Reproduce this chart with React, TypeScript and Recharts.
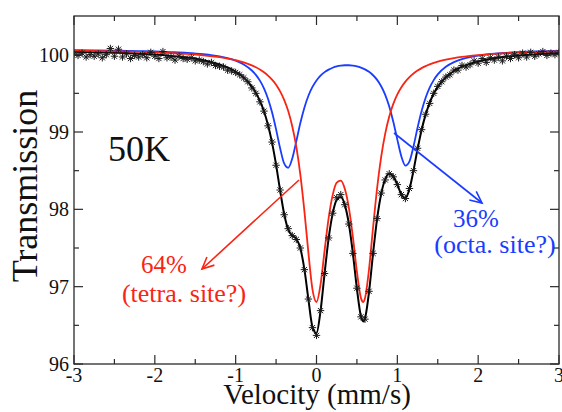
import { ComposedChart, Line, Scatter, XAxis, YAxis } from 'recharts';

// velocity grid (mm/s) for the fitted curves
const VELOCITY = [
  -3, -2.5, -2.2, -2, -1.8, -1.6, -1.4, -1.2, -1.1, -1, -0.9,
  -0.8, -0.75, -0.7, -0.65, -0.6, -0.55, -0.5, -0.45, -0.4, -0.35, -0.3, -0.25, -0.2, -0.15, -0.1, -0.05,
  0, 0.05, 0.1, 0.15, 0.2, 0.25, 0.3, 0.35, 0.4, 0.45, 0.5, 0.55, 0.58, 0.6, 0.65, 0.7, 0.75, 0.8, 0.85, 0.9, 0.95,
  1, 1.05, 1.1, 1.15, 1.2, 1.25, 1.3, 1.35, 1.4, 1.45, 1.5,
  1.6, 1.7, 1.8, 1.9, 2, 2.2, 2.5, 3,
];

// tetrahedral doublet (red)
const TETRA = [
  100.051, 100.043, 100.036, 100.029, 100.02, 100.009, 99.992, 99.967, 99.95, 99.928, 99.9,
  99.861, 99.837, 99.808, 99.773, 99.729, 99.677, 99.611, 99.525, 99.416, 99.271, 99.075, 98.81, 98.45, 97.981, 97.437, 96.966,
  96.802, 97.029, 97.466, 97.886, 98.184, 98.345, 98.37, 98.265, 98.022, 97.644, 97.194, 96.852, 96.801, 96.852, 97.227, 97.768, 98.276, 98.678, 98.979, 99.2, 99.363,
  99.486, 99.579, 99.652, 99.71, 99.756, 99.794, 99.826, 99.852, 99.874, 99.893, 99.909,
  99.935, 99.956, 99.972, 99.984, 99.995, 100.011, 100.026, 100.041,
];

// octahedral doublet (blue)
const OCTA = [
  100.058, 100.052, 100.047, 100.042, 100.034, 100.024, 100.007, 99.978, 99.955, 99.922, 99.873,
  99.795, 99.739, 99.664, 99.565, 99.431, 99.255, 99.034, 98.79, 98.593, 98.537, 98.656, 98.879, 99.116, 99.315, 99.469, 99.583,
  99.667, 99.729, 99.774, 99.807, 99.831, 99.848, 99.858, 99.863, 99.863, 99.859, 99.849, 99.833, 99.82, 99.81, 99.778, 99.734, 99.674, 99.591, 99.48, 99.329, 99.133,
  98.902, 98.683, 98.566, 98.621, 98.815, 99.054, 99.271, 99.443, 99.574, 99.671, 99.745,
  99.843, 99.903, 99.943, 99.969, 99.988, 100.013, 100.033, 100.048,
];

// total fit (black)
const FIT = [
  100.039, 100.025, 100.013, 100.001, 99.984, 99.963, 99.929, 99.875, 99.835, 99.78, 99.703,
  99.586, 99.506, 99.402, 99.268, 99.09, 98.862, 98.575, 98.245, 97.939, 97.738, 97.661, 97.619, 97.496, 97.226, 96.836, 96.479,
  96.399, 96.688, 97.17, 97.623, 97.945, 98.123, 98.158, 98.058, 97.815, 97.433, 96.973, 96.615, 96.551, 96.592, 96.935, 97.432, 97.88, 98.199, 98.389, 98.459, 98.426,
  98.318, 98.192, 98.148, 98.261, 98.501, 98.778, 99.027, 99.225, 99.378, 99.494, 99.584,
  99.708, 99.789, 99.845, 99.883, 99.913, 99.954, 99.989, 100.019,
];

// measured points
const STAR_V = [
  -3, -2.95, -2.9, -2.85, -2.8, -2.75, -2.7, -2.65, -2.6, -2.55, -2.5, -2.45, -2.4, -2.35, -2.3, -2.25, -2.2, -2.15, -2.1, -2.05,
  -2, -1.95, -1.9, -1.85, -1.8, -1.75, -1.7, -1.65, -1.6, -1.55, -1.5, -1.45, -1.4, -1.35, -1.3, -1.25, -1.2, -1.15, -1.1, -1.05,
  -1, -0.95, -0.9, -0.85, -0.8, -0.75, -0.7, -0.65, -0.6, -0.55, -0.5, -0.45, -0.4, -0.35, -0.3, -0.25, -0.2, -0.15, -0.1, -0.05,
  0, 0.05, 0.1, 0.15, 0.2, 0.25, 0.3, 0.35, 0.4, 0.45, 0.5, 0.55, 0.6, 0.65, 0.7, 0.75, 0.8, 0.85, 0.9, 0.95,
  1, 1.05, 1.1, 1.15, 1.2, 1.25, 1.3, 1.35, 1.4, 1.45, 1.5, 1.55, 1.6, 1.65, 1.7, 1.75, 1.8, 1.85, 1.9, 1.95,
  2, 2.05, 2.1, 2.15, 2.2, 2.25, 2.3, 2.35, 2.4, 2.45, 2.5, 2.55, 2.6, 2.65, 2.7, 2.75, 2.8, 2.85, 2.9, 2.95, 3,
];
const STAR_T = [
  100.01, 99.99, 100.02, 99.97, 100.0, 99.98, 100.01, 99.96, 100.0, 100.08, 99.98, 100.07, 99.97, 100.01, 99.95, 99.99, 99.97, 100.0, 99.96, 100.03,
  99.98, 99.95, 100.04, 99.96, 99.97, 99.93, 99.98, 99.95, 99.94, 99.96, 99.92, 99.93, 99.91, 99.88, 99.9, 99.86, 99.85, 99.84, 99.8, 99.79,
  99.77, 99.74, 99.7, 99.65, 99.57, 99.5, 99.39, 99.27, 99.08, 98.87, 98.57, 98.25, 97.93, 97.75, 97.66, 97.61, 97.5, 97.22, 96.84, 96.47,
  96.37, 96.69, 97.17, 97.63, 97.95, 98.15, 98.19, 98.06, 97.81, 97.43, 96.98, 96.61, 96.58, 96.94, 97.43, 97.88, 98.21, 98.38, 98.46, 98.42,
  98.32, 98.19, 98.14, 98.27, 98.5, 98.79, 99.03, 99.23, 99.37, 99.5, 99.59, 99.65, 99.71, 99.74, 99.8, 99.8, 99.86, 99.84, 99.87, 99.92,
  99.89, 99.95, 99.9, 99.96, 99.93, 99.97, 99.92, 99.98, 99.95, 100.0, 99.96, 100.02, 99.97, 100.03, 99.98, 100.01, 100.04, 99.99, 100.02, 100.0, 100.03,
];

// major (labelled) and minor ticks
const X_TICKS = [-3, -2.5, -2, -1.5, -1, -0.5, 0, 0.5, 1, 1.5, 2, 2.5, 3];
const Y_TICKS = [96, 96.5, 97, 97.5, 98, 98.5, 99, 99.5, 100];

const RED = '#f82414';
const BLUE = '#1a3cff';
const FRAME = '#2a2a2a';
const SERIF = '"Liberation Serif", "DejaVu Serif", serif';

// plot box (from the chart margins below)
const LEFT = 74;
const TOP = 16;
const RIGHT = 559;
const BOTTOM = 364;

const curveData = VELOCITY.map((v, i) => ({ v, tetra: TETRA[i], octa: OCTA[i], fit: FIT[i] }));
const starData = STAR_V.map((v, i) => ({ v, t: STAR_T[i] }));

// asterisk marker like the Grace "*" symbol
const Asterisk = (props: any) => {
  const { cx, cy } = props;
  if (cx == null || cy == null) return null;
  const r = 3.7;
  const d = r * 0.707;
  return (
    <g stroke="#1a1a1a" strokeWidth={1}>
      <line x1={cx - r} y1={cy} x2={cx + r} y2={cy} />
      <line x1={cx} y1={cy - r} x2={cx} y2={cy + r} />
      <line x1={cx - d} y1={cy - d} x2={cx + d} y2={cy + d} />
      <line x1={cx - d} y1={cy + d} x2={cx + d} y2={cy - d} />
    </g>
  );
};

// bottom tick: inward tick on bottom and top edge, label only on integers
const XTick = (props: any) => {
  const { x, payload } = props;
  const v = payload.value;
  const major = Number.isInteger(v);
  const len = major ? 9 : 5;
  return (
    <g>
      <line x1={x} y1={BOTTOM} x2={x} y2={BOTTOM - len} stroke={FRAME} strokeWidth={1.2} />
      <line x1={x} y1={TOP} x2={x} y2={TOP + len} stroke={FRAME} strokeWidth={1.2} />
      {major && (
        <text x={x} y={382} textAnchor="middle" fontSize={20} fontFamily={SERIF} fill="#111">{v}</text>
      )}
    </g>
  );
};

// left tick: inward tick on left and right edge
const YTick = (props: any) => {
  const { y, payload } = props;
  const v = payload.value;
  const major = Number.isInteger(v);
  const len = major ? 9 : 5;
  return (
    <g>
      <line x1={LEFT} y1={y} x2={LEFT + len} y2={y} stroke={FRAME} strokeWidth={1.2} />
      <line x1={RIGHT} y1={y} x2={RIGHT - len} y2={y} stroke={FRAME} strokeWidth={1.2} />
      {major && (
        <text x={LEFT - 5} y={y} dy="0.35em" textAnchor="end" fontSize={20} fontFamily={SERIF} fill="#111">{v}</text>
      )}
    </g>
  );
};

function Arrow({ x1, y1, x2, y2, color }: { x1: number; y1: number; x2: number; y2: number; color: string }) {
  const ang = Math.atan2(y1 - y2, x1 - x2);
  const len = 13;
  const spread = 0.44;
  const ax = x2 + len * Math.cos(ang + spread);
  const ay = y2 + len * Math.sin(ang + spread);
  const bx = x2 + len * Math.cos(ang - spread);
  const by = y2 + len * Math.sin(ang - spread);
  return (
    <g stroke={color} strokeWidth={1.6} fill="none">
      <line x1={x1} y1={y1} x2={x2} y2={y2} />
      <polyline points={`${ax},${ay} ${x2},${y2} ${bx},${by}`} />
    </g>
  );
}

export default function App() {
  return (
    <div style={{ position: 'fixed', left: 0, top: 0, width: 562, height: 412, background: '#fff' }}>
      <ComposedChart width={562} height={412} margin={{ top: TOP, right: 562 - RIGHT, left: 14, bottom: 18 }}>
        <XAxis xAxisId="x" type="number" dataKey="v" domain={[-3, 3]} ticks={X_TICKS} interval={0} allowDataOverflow
          orientation="bottom" height={412 - 18 - BOTTOM} tickLine={false} axisLine={false} tickSize={0} tickMargin={0}
          tick={XTick} />
        <YAxis yAxisId="y" type="number" domain={[96, 100.5]} ticks={Y_TICKS} interval={0} allowDataOverflow
          orientation="left" width={LEFT - 14} tickLine={false} axisLine={false} tickSize={0} tickMargin={0}
          tick={YTick} />

        <Scatter data={starData} dataKey="t" xAxisId="x" yAxisId="y" shape={Asterisk} isAnimationActive={false} />
        <Line data={curveData} dataKey="fit" xAxisId="x" yAxisId="y" type="monotone" stroke="#000" strokeWidth={2}
          dot={false} isAnimationActive={false} />
        <Line data={curveData} dataKey="octa" xAxisId="x" yAxisId="y" type="monotone" stroke={BLUE} strokeWidth={1.8}
          dot={false} isAnimationActive={false} />
        <Line data={curveData} dataKey="tetra" xAxisId="x" yAxisId="y" type="monotone" stroke={RED} strokeWidth={1.8}
          dot={false} isAnimationActive={false} />
      </ComposedChart>

      <svg width={562} height={412} style={{ position: 'absolute', left: 0, top: 0, pointerEvents: 'none' }}>
        <rect x={LEFT} y={TOP} width={RIGHT - LEFT} height={BOTTOM - TOP} fill="none" stroke={FRAME} strokeWidth={1.3} />
        <text x={37} y={186} transform="rotate(-90 37 186)" textAnchor="middle" fontSize={36} fontFamily={SERIF} fill="#111">
          Transmission
        </text>
        <text x={317} y={404} textAnchor="middle" fontSize={29} fontFamily={SERIF} fill="#111">
          Velocity (mm/s)
        </text>
        <text x={108} y={161} fontSize={36} fontFamily={SERIF} fill="#111">50K</text>

        <Arrow x1={299} y1={180} x2={202} y2={269} color={RED} />
        <text x={164} y={273} textAnchor="middle" fontSize={25} fontFamily={SERIF} fill={RED}>64%</text>
        <text x={184} y={302} textAnchor="middle" fontSize={26} fontFamily={SERIF} fill={RED}>(tetra. site?)</text>

        <Arrow x1={394} y1={133} x2={482} y2={203} color={BLUE} />
        <text x={476} y={227} textAnchor="middle" fontSize={25} fontFamily={SERIF} fill={BLUE}>36%</text>
        <text x={495} y={253} textAnchor="middle" fontSize={26} fontFamily={SERIF} fill={BLUE}>(octa. site?)</text>
      </svg>
    </div>
  );
}
